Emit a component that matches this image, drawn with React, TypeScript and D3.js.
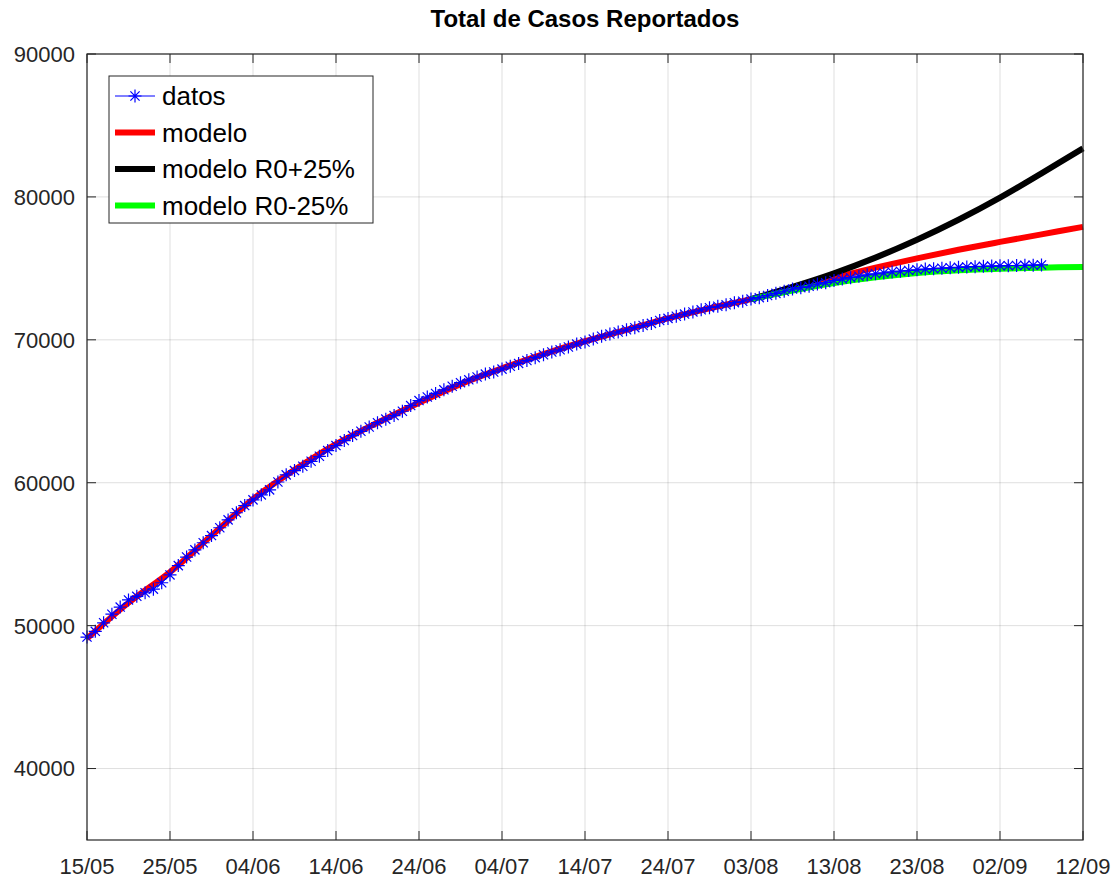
import { useMemo } from "react";
import * as d3 from "d3";

const W = 1119;
const H = 881;
const margin = { top: 54, right: 36, bottom: 41, left: 87 };

const title = "Total de Casos Reportados";

// eje X: días desde el 15/05
const xTickDays = [0, 10, 20, 30, 40, 50, 60, 70, 80, 90, 100, 110, 120];
const xTickLabels = ["15/05", "25/05", "04/06", "14/06", "24/06", "04/07", "14/07", "24/07", "03/08", "13/08", "23/08", "02/09", "12/09"];
const yTicks = [40000, 50000, 60000, 70000, 80000, 90000];

// datos diarios (día 0 = 15/05)
const datos = [
  49200, 49600, 50200, 50800, 51300, 51800, 52050, 52300, 52550, 53000,
  53550, 54200, 54800, 55300, 55800, 56300, 56850, 57400, 57900, 58400,
  58800, 59150, 59500, 60050, 60550, 60850, 61150, 61500, 61850, 62250,
  62600, 62950, 63300, 63600, 63900, 64200, 64450, 64700, 65000, 65400,
  65750, 66000, 66250, 66500, 66750, 67000, 67200, 67400, 67600, 67750,
  67950, 68150, 68350, 68550, 68750, 68950, 69150, 69300, 69500, 69700,
  69850, 70050, 70250, 70400, 70550, 70700, 70850, 71000, 71150, 71350,
  71500, 71650, 71800, 71950, 72100, 72250, 72350, 72450, 72600, 72700,
  72850, 72950, 73100, 73250, 73400, 73550, 73650, 73750, 73900, 74000,
  74150, 74250, 74350, 74450, 74550, 74620, 74680, 74750, 74800, 74850,
  74900, 74950, 74980, 75010, 75040, 75070, 75100, 75120, 75140, 75160,
  75180, 75190, 75200, 75210, 75220, 75240,
];

// modelos, cada 5 días
const modeloDays = [0, 5, 10, 15, 20, 25, 30, 35, 40, 45, 50, 55, 60, 65, 70, 75, 80, 85, 90, 95, 100, 105, 110, 115, 120];
const modelo = [
  49100, 51600, 53750, 56300, 58850, 60900, 62700, 64200, 65600, 66900,
  68000, 69000, 69900, 70700, 71500, 72200, 72850, 73600, 74350, 75050,
  75700, 76300, 76850, 77380, 77900,
];
const escenarioDays = [80, 85, 90, 95, 100, 105, 110, 115, 120];
const modeloMas = [72850, 73700, 74650, 75750, 77000, 78400, 79950, 81650, 83400];
const modeloMenos = [72850, 73450, 73980, 74380, 74680, 74870, 74980, 75050, 75100];

const series = [
  { name: "datos", color: "#0000ff" },
  { name: "modelo", color: "#ff0000" },
  { name: "modelo R0+25%", color: "#000000" },
  { name: "modelo R0-25%", color: "#00ff00" },
];

const font = "'Liberation Sans', Arial, Helvetica, sans-serif";
const axisColor = "#262626";

function Star({ x, y, r, color }: { x: number; y: number; r: number; color: string }) {
  const d = r * 0.7071;
  return (
    <path
      d={`M${x - r},${y}H${x + r}M${x},${y - r}V${y + r}M${x - d},${y - d}L${x + d},${y + d}M${x - d},${y + d}L${x + d},${y - d}`}
      stroke={color}
      strokeWidth={1.2}
      fill="none"
    />
  );
}

export default function App() {
  const x = useMemo(
    () => d3.scaleLinear().domain([0, 120]).range([margin.left, W - margin.right]),
    []
  );
  const y = useMemo(
    () => d3.scaleLinear().domain([35000, 90000]).range([H - margin.bottom, margin.top]),
    []
  );

  const line = d3
    .line<[number, number]>()
    .x((d) => x(d[0]))
    .y((d) => y(d[1]))
    .curve(d3.curveCatmullRom);

  const datosPts: [number, number][] = datos.map((v, i) => [i, v]);
  const modeloPath = line(modelo.map((v, i) => [modeloDays[i], v]));
  const masPath = line(modeloMas.map((v, i) => [escenarioDays[i], v]));
  const menosPath = line(modeloMenos.map((v, i) => [escenarioDays[i], v]));
  const datosPath = d3
    .line<[number, number]>()
    .x((d) => x(d[0]))
    .y((d) => y(d[1]))(datosPts);

  const x0 = margin.left;
  const x1 = W - margin.right;
  const y0 = H - margin.bottom;
  const y1 = margin.top;
  const tickLen = 9;

  const legend = { x: 109, y: 76, w: 264, h: 147 };

  return (
    <svg
      width={W}
      height={H}
      style={{ position: "absolute", left: 0, top: 0, background: "#fff" }}
      fontFamily={font}
    >
      <rect x={0} y={0} width={W} height={H} fill="#fff" />

      {/* Grid */}
      {xTickDays.map((d) => (
        <line key={`gx-${d}`} x1={x(d)} x2={x(d)} y1={y0} y2={y1} stroke={axisColor} strokeOpacity={0.15} />
      ))}
      {yTicks.map((t) => (
        <line key={`gy-${t}`} x1={x0} x2={x1} y1={y(t)} y2={y(t)} stroke={axisColor} strokeOpacity={0.15} />
      ))}

      {/* Series */}
      <path d={modeloPath ?? ""} stroke="#ff0000" strokeWidth={6} fill="none" />
      <path d={masPath ?? ""} stroke="#000000" strokeWidth={6} fill="none" />
      <path d={menosPath ?? ""} stroke="#00ff00" strokeWidth={6} fill="none" />
      <path d={datosPath ?? ""} stroke="#0000ff" strokeWidth={1} fill="none" />
      {datosPts.map(([d, v]) => (
        <Star key={`s-${d}`} x={x(d)} y={y(v)} r={6.5} color="#0000ff" />
      ))}

      {/* Axes box */}
      <rect x={x0} y={y1} width={x1 - x0} height={y0 - y1} fill="none" stroke={axisColor} strokeWidth={1.2} />
      {xTickDays.map((d) => (
        <g key={`tx-${d}`}>
          <line x1={x(d)} x2={x(d)} y1={y0} y2={y0 - tickLen} stroke={axisColor} />
          <line x1={x(d)} x2={x(d)} y1={y1} y2={y1 + tickLen} stroke={axisColor} />
        </g>
      ))}
      {yTicks.map((t) => (
        <g key={`ty-${t}`}>
          <line x1={x0} x2={x0 + tickLen} y1={y(t)} y2={y(t)} stroke={axisColor} />
          <line x1={x1} x2={x1 - tickLen} y1={y(t)} y2={y(t)} stroke={axisColor} />
        </g>
      ))}

      {/* Tick labels */}
      {xTickDays.map((d, i) => (
        <text key={`lx-${d}`} x={x(d)} y={y0 + 34} textAnchor="middle" fontSize={22} fill={axisColor}>
          {xTickLabels[i]}
        </text>
      ))}
      {yTicks.map((t) => (
        <text key={`ly-${t}`} x={x0 - 12} y={y(t)} dy="0.36em" textAnchor="end" fontSize={22} fill={axisColor}>
          {t}
        </text>
      ))}

      {/* Title */}
      <text x={(x0 + x1) / 2} y={27} textAnchor="middle" fontSize={24} fontWeight="bold" fill="#000">
        {title}
      </text>

      {/* Legend */}
      <rect x={legend.x} y={legend.y} width={legend.w} height={legend.h} fill="#fff" stroke={axisColor} strokeWidth={1} />
      {series.map((s, i) => {
        const ly = legend.y + 20 + i * 36.5;
        return (
          <g key={s.name}>
            {i === 0 ? (
              <>
                <line x1={legend.x + 6} x2={legend.x + 46} y1={ly} y2={ly} stroke={s.color} strokeWidth={1} />
                <Star x={legend.x + 26} y={ly} r={6.5} color={s.color} />
              </>
            ) : (
              <line x1={legend.x + 6} x2={legend.x + 46} y1={ly} y2={ly} stroke={s.color} strokeWidth={6} />
            )}
            <text x={legend.x + 53} y={ly} dy="0.36em" fontSize={26} fill="#000">
              {s.name}
            </text>
          </g>
        );
      })}
    </svg>
  );
}
